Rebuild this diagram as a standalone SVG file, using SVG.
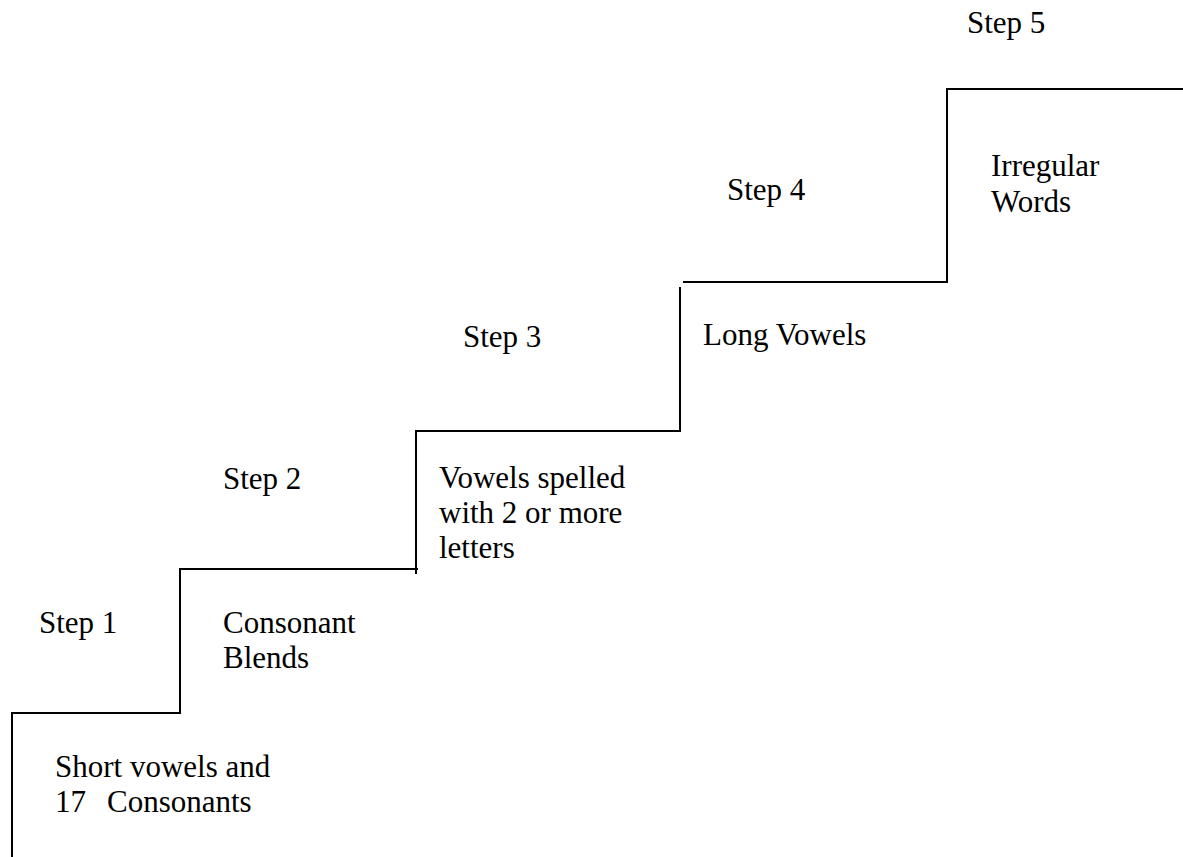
<svg xmlns="http://www.w3.org/2000/svg" width="1183" height="857" viewBox="0 0 1183 857">
<style>
text{font-family:"Liberation Serif","Times New Roman",serif;font-size:31px;fill:#000}
.ln{fill:none;stroke:#000;stroke-width:2}
</style>
<rect width="1183" height="857" fill="#fff"/>
<g id="connectors">
<path class="ln" d="M12,857 V713 H180 V569 H418"/>
<path class="ln" d="M416,574 V431 H680 V287"/>
<path class="ln" d="M683,282 H947 V89 H1183"/>
</g>
<g id="step1">
<text x="39" y="633">Step 1</text>
<text x="55" y="777">Short vowels and</text>
<text x="55" y="812" xml:space="preserve">17  <tspan x="107">Consonants</tspan></text>
</g>
<g id="step2">
<text x="223" y="489">Step 2</text>
<text x="223" y="633">Consonant</text>
<text x="223" y="668">Blends</text>
</g>
<g id="step3">
<text x="463" y="347">Step 3</text>
<text x="439" y="488">Vowels spelled</text>
<text x="439" y="523">with 2 or more</text>
<text x="439" y="558">letters</text>
</g>
<g id="step4">
<text x="727" y="200">Step 4</text>
<text x="703" y="345">Long Vowels</text>
</g>
<g id="step5">
<text x="967" y="33">Step 5</text>
<text x="991" y="176">Irregular</text>
<text x="991" y="212">Words</text>
</g>
</svg>
